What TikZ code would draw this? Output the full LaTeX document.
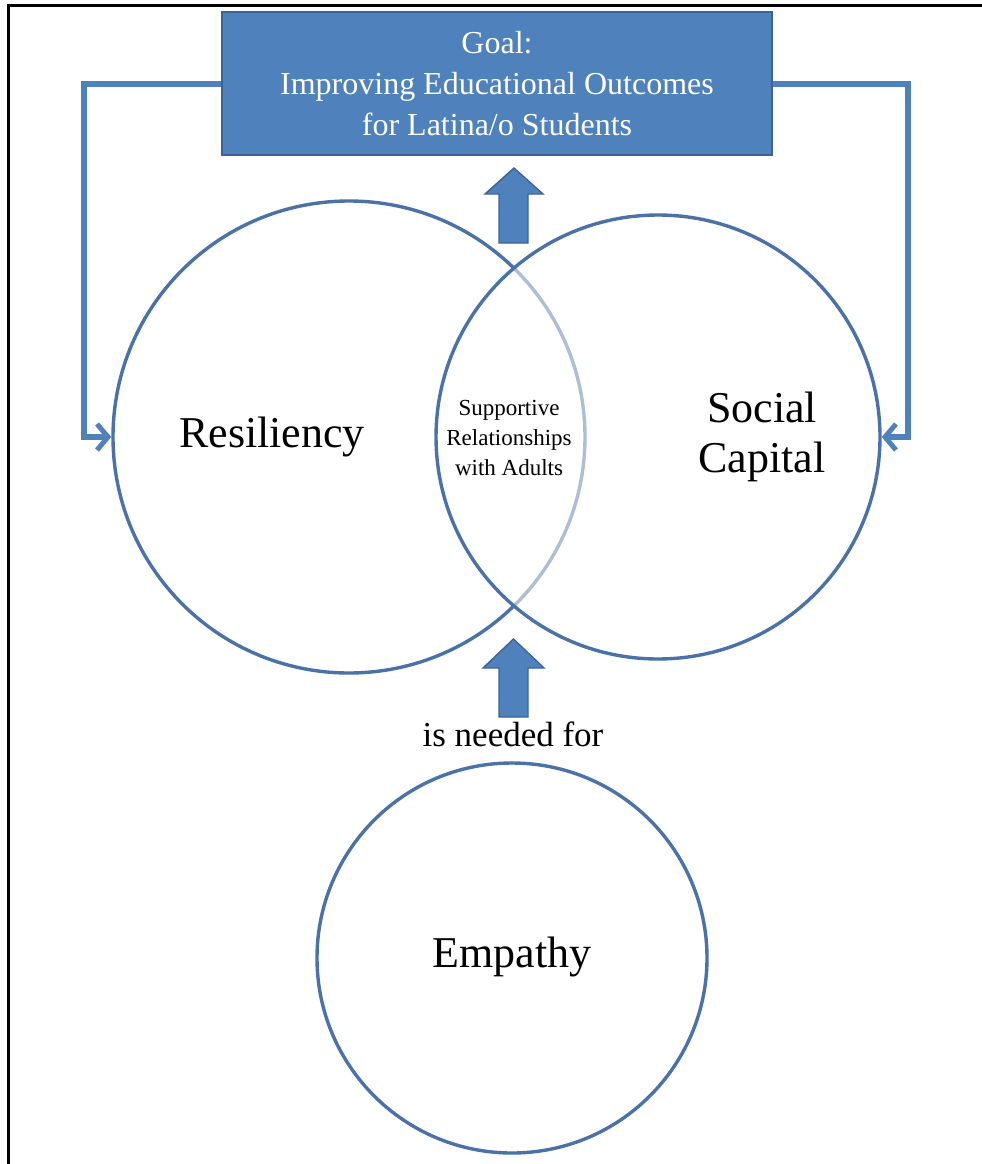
\documentclass[tikz,border=0pt]{standalone}
\usepackage{fontspec}
\setmainfont{Liberation Serif}
\usetikzlibrary{arrows.meta}
\definecolor{boxblue}{HTML}{4F81BD}
\definecolor{boxedge}{HTML}{3B6496}
\definecolor{ringblue}{HTML}{4A72A8}
\begin{document}
\begin{tikzpicture}[x=1pt,y=-1pt,
  ring/.style={circle, draw=ringblue, line width=3.4pt, inner sep=0pt},
  conn/.style={draw=boxblue, line width=6pt, line join=miter,
    -{Straight Barb[length=11pt,width=26pt,line width=5pt]}},
  blockarrow/.style={fill=boxblue, draw=boxedge, line width=1.4pt, line join=miter},
  goalbox/.style={fill=boxblue, draw=boxedge, line width=1.8pt,
    minimum width=550pt, minimum height=143pt, inner sep=0pt,
    text=white, font=\fontsize{32}{41}\selectfont, align=center},
  big/.style={font=\fontsize{44}{50}\selectfont, align=center},
]
\useasboundingbox (0,0) rectangle (982,1164);

% page frame (top and left edges)
\draw[black, line width=3pt, line join=miter] (8,1164) -- (8,5.3) -- (982,5.3);

% goal box
\node[goalbox] (goal) at (497,83.5)
  {Goal:\\Improving Educational Outcomes\\for Latina/o Students};

% the two overlapping circles
\node[ring, minimum size=472pt] (res) at (349,437) {};
\node[ring, fill=white, fill opacity=0.55, minimum size=444pt] (soc) at (658,437) {};

% circle labels
\node[big] (restext) at (272,437) {Resiliency};
\node[big] (soctext) at (762,437) {Social\\Capital};
\node[font=\fontsize{23}{30}\selectfont, align=center] (support) at (509,438)
  {Supportive\\Relationships\\with Adults};

% feedback connectors from the goal back to the circles
\draw[conn] (goal.west) -- ++(-137,0) |- (res.west);
\draw[conn] (goal.east) -- ++(135,0) |- (soc.east);

% block arrows
\draw[blockarrow] (499,243) -- (499,194) -- (485,194) -- (514,168)
  -- (543,194) -- (528,194) -- (528,243) -- cycle;
\draw[blockarrow] (499,717) -- (499,668) -- (483,668) -- (513.5,639)
  -- (544,668) -- (528,668) -- (528,717) -- cycle;

\node[font=\fontsize{35}{40}\selectfont] (need) at (513,734) {is needed for};

% empathy circle
\node[ring, minimum size=390pt] (emp) at (512,958) {};
\node[big] (emptext) at (512,957) {Empathy};
\end{tikzpicture}
\end{document}
